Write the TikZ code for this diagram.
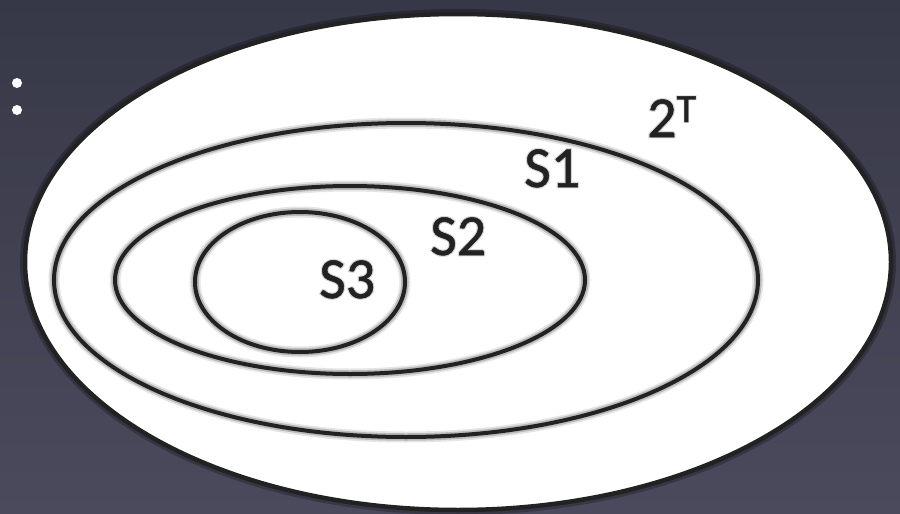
\documentclass[tikz,border=0pt]{standalone}
\usepackage{fontspec}
\setmainfont{Carlito}
\newfontfamily\lblfont[FakeBold=0.9]{Carlito}
\newfontfamily\glowfont[FakeBold=5]{Carlito}
\definecolor{bgtop}{RGB}{55,56,71}
\definecolor{bgbot}{RGB}{75,74,93}
\definecolor{ink}{RGB}{34,34,34}
\tikzset{
  setline/.style={draw=ink, line width=4pt},
  setglow/.style={draw=black, line width=11pt, opacity=0.10},
  setglowb/.style={draw=black, line width=7.5pt, opacity=0.18},
  setlabel/.style={text=ink, inner sep=0pt, anchor=base west, font=\lblfont\fontsize{58}{60}\selectfont},
  labelglow/.style={text=black, text opacity=0.16, inner sep=0pt, anchor=base west, font=\glowfont\fontsize{58}{60}\selectfont},
  dot/.style={fill=white, circle, inner sep=0pt, minimum size=10pt}
}
\newcommand{\twoT}{2\raisebox{15pt}{\fontsize{40}{42}\selectfont T}}
\begin{document}
\begin{tikzpicture}[x=1pt,y=-1pt]
\fill[top color=bgtop, bottom color=bgbot] (0,0) rectangle (900,514);
\useasboundingbox (0,0) rectangle (900,514);
% bullets
\node[dot] (b1) at (17,83) {};
\node[dot] (b2) at (17,110) {};
% outer set 2^T
\draw[draw=black, line width=10pt, opacity=0.25] (458,262) ellipse [x radius=433, y radius=248];
\draw[fill=white, draw=ink, line width=4.5pt] (458,262) ellipse [x radius=433, y radius=248];
% glows
\foreach \cx/\cy/\rx/\ry in {406/280/352/157, 350/280/235/94, 300/282/105/70}{
  \draw[setglow] (\cx,\cy) ellipse [x radius=\rx, y radius=\ry];
  \draw[setglowb] (\cx,\cy) ellipse [x radius=\rx, y radius=\ry];
}
% sets
\draw[setline] (406,280) ellipse [x radius=352, y radius=157];
\draw[setline] (350,280) ellipse [x radius=235, y radius=94];
\draw[setline] (300,282) ellipse [x radius=105, y radius=70];
% label glows
\node[labelglow] (gT) at (647,137) {\twoT};
\node[labelglow] (g1) at (524,187) {S1};
\node[labelglow] (g2) at (430,255) {S2};
\node[labelglow] (g3) at (319,298) {S3};
% labels
\node[setlabel] (lT) at (647,137) {\twoT};
\node[setlabel] (l1) at (524,187) {S1};
\node[setlabel] (l2) at (430,255) {S2};
\node[setlabel] (l3) at (319,298) {S3};
\end{tikzpicture}
\end{document}
